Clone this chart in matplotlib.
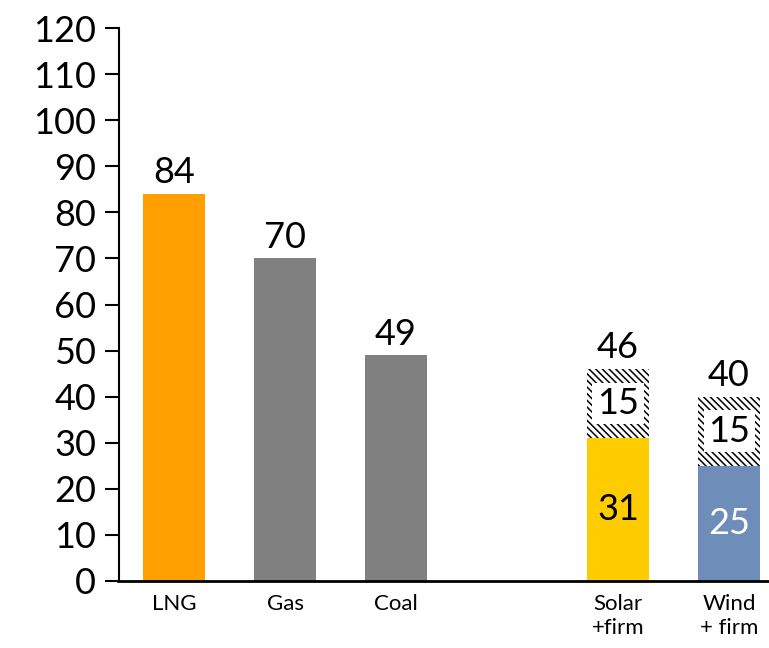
import numpy as np
import matplotlib.pyplot as plt

plt.rcParams['font.family'] = ['Lato', 'DejaVu Sans']
plt.rcParams['hatch.linewidth'] = 1.1

labels = ["LNG", "Gas", "Coal", "Solar\n+firm", "Wind\n+ firm"]
pos = [0, 1, 2, 4, 5]
base = [84, 70, 49, 31, 25]
firm = [0, 0, 0, 15, 15]
totals = [84, 70, 49, 46, 40]
colors = ["#FF9F00", "#808080", "#808080", "#FFCC00", "#6E8DB9"]

fig = plt.figure(figsize=(7.69, 6.48), dpi=100)
ax = fig.add_axes([118.5 / 769, 1 - 581 / 648, (769 - 118.5) / 769, (581 - 28) / 648])

ax.bar(pos, base, width=0.56, color=colors)
fpos = pos[3:]
fbase = np.array(base[3:])
fval = np.array(firm[3:])
ax.bar(fpos, fval, bottom=fbase, width=0.56, facecolor="white",
       edgecolor="black", linewidth=0, hatch="\\\\\\\\\\")
# white label area inside the hatched segment
ax.bar(fpos, fval * 0.6, bottom=fbase + fval * 0.2, width=0.46, color="white")

for x, t in zip(pos, totals):
    ax.text(x, t + 1, str(t), ha="center", va="bottom", fontsize=26)

# values inside stacked bars
ax.text(pos[3], base[3] / 2, str(base[3]), ha="center", va="center", fontsize=26, color="black")
ax.text(pos[4], base[4] / 2, str(base[4]), ha="center", va="center", fontsize=26, color="white")
for x, b, f in zip(fpos, fbase, fval):
    ax.text(x, b + f / 2, str(f), ha="center", va="center", fontsize=26)

ax.set_ylim(0, 120)
ax.set_yticks(np.arange(0, 121, 10))
ax.set_xlim(-0.5, 5.36)
ax.set_xticks(pos)
ax.set_xticklabels(labels, fontsize=16, linespacing=1.3)
ax.tick_params(axis="x", length=0, pad=9)
ax.tick_params(axis="y", labelsize=26, length=10, width=1.5, direction="out", pad=6)
for s in ["top", "right"]:
    ax.spines[s].set_visible(False)
ax.spines["left"].set_linewidth(1.5)
ax.spines["bottom"].set_linewidth(2)

fig.savefig("out.png", dpi=100)
